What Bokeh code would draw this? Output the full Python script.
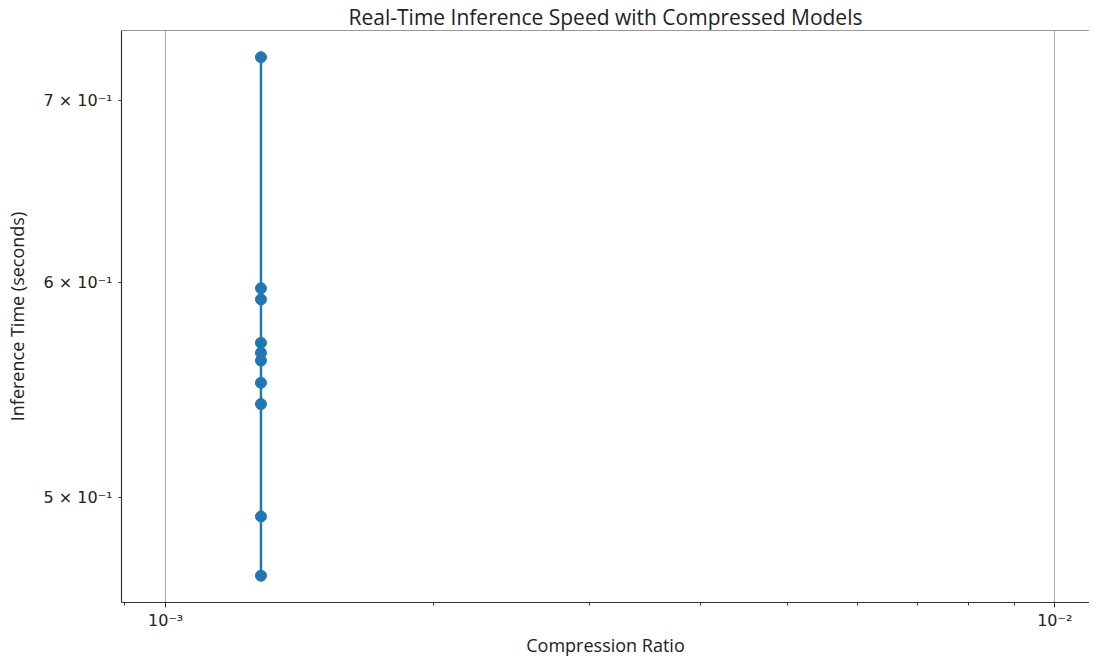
from bokeh.plotting import figure
from bokeh.models import FixedTicker, Range1d, Span, ColumnDataSource
from bokeh.embed import file_html
from bokeh.resources import INLINE

# Data
compression_ratio = [0.00128] * 10
inference_time = [0.7263, 0.5971, 0.5915, 0.5701, 0.5653, 0.5616, 0.5511, 0.5413, 0.4921, 0.4680]

x_major = [0.001, 0.01]
x_major_labels = ["10⁻³", "10⁻²"]
x_minor = [0.0009, 0.002, 0.003, 0.004, 0.005, 0.006, 0.007, 0.008, 0.009]
y_ticks = [0.5, 0.6, 0.7]
y_tick_labels = ["5 × 10⁻¹", "6 × 10⁻¹", "7 × 10⁻¹"]

LABEL_FONT = "Open Sans"
TICK_FONT = "DejaVu Sans"
COLOR = "#1f77b4"

src = ColumnDataSource(dict(x=compression_ratio, y=inference_time))

p = figure(width=1089, height=660, x_axis_type="log", y_axis_type="log",
           x_range=Range1d(0.000892, 0.01094), y_range=Range1d(0.4575, 0.7429),
           output_backend="svg", toolbar_location=None,
           min_border_left=121, min_border_right=0, min_border_top=30, min_border_bottom=58,
           title="Real-Time Inference Speed with Compressed Models")

p.title.align = "center"
p.title.text_font = LABEL_FONT
p.title.text_font_size = "21px"
p.title.text_font_style = "normal"
p.title.text_color = "#222222"
p.title.standoff = 0
p.title.offset = 0

p.outline_line_color = None
p.background_fill_color = "white"
p.border_fill_color = "white"

p.line("x", "y", source=src, line_color=COLOR, line_width=2.5)
p.scatter("x", "y", source=src, size=11, marker="circle", fill_color=COLOR, line_color=COLOR)

# top spine
p.add_layout(Span(location=0.7429, dimension="width", line_color="#333333", line_width=1.2))

xa = p.xaxis[0]
xa.ticker = FixedTicker(ticks=x_major, minor_ticks=x_minor)
xa.major_label_overrides = {t: l for t, l in zip(x_major, x_major_labels)}
xa.axis_label = "Compression Ratio"
ya = p.yaxis[0]
ya.ticker = FixedTicker(ticks=y_ticks, minor_ticks=[])
ya.major_label_overrides = {t: l for t, l in zip(y_ticks, y_tick_labels)}
ya.axis_label = "Inference Time (seconds)"

for ax in (xa, ya):
    ax.axis_label_text_font = LABEL_FONT
    ax.axis_label_text_font_size = "18px"
    ax.axis_label_text_font_style = "normal"
    ax.axis_label_text_color = "#222222"
    ax.major_label_text_font = TICK_FONT
    ax.major_label_text_font_size = "16px"
    ax.major_label_text_color = "#222222"
    ax.axis_line_color = "#333333"
    ax.axis_line_width = 1.2
    ax.major_tick_line_color = "#333333"
    ax.minor_tick_line_color = "#333333"
    ax.major_tick_in = 0
    ax.minor_tick_in = 0

xa.major_tick_out = 5
xa.minor_tick_out = 3
xa.major_label_standoff = 3
xa.axis_label_standoff = 0
ya.major_tick_out = 3
ya.major_label_standoff = 6
ya.axis_label_standoff = 12

p.xgrid.ticker = FixedTicker(ticks=x_major)
p.xgrid.grid_line_color = "#b0b0b0"
p.xgrid.grid_line_width = 1
p.ygrid.grid_line_color = None

open("out.html", "w").write(file_html(p, INLINE))
